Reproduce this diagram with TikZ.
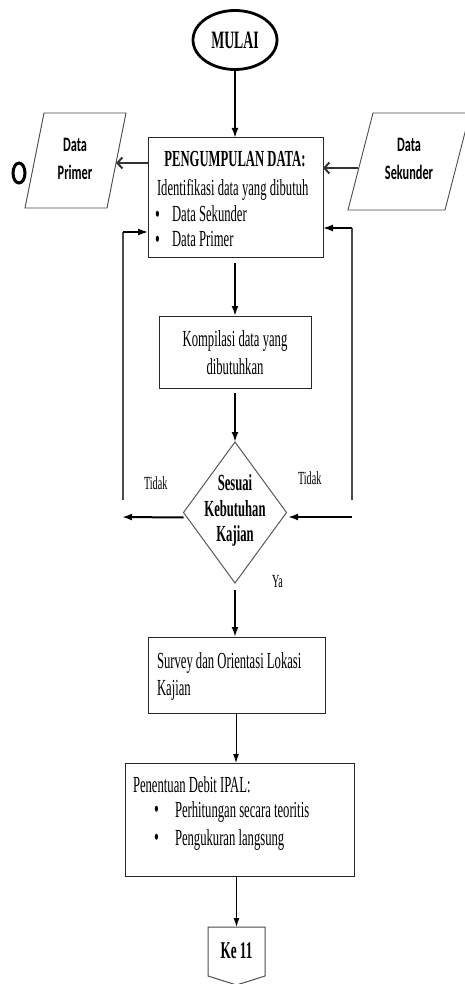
\documentclass[tikz,border=0pt]{standalone}
\usepackage{fontspec}
\setmainfont{Liberation Serif}[FakeStretch=0.55]
\newfontfamily\calibfont{Carlito}[FakeStretch=0.6]
\usetikzlibrary{arrows.meta,shapes.geometric,fit,calc}

\begin{document}
\begin{tikzpicture}[x=1pt,y=-1pt,
  every node/.style={inner sep=0pt, outer sep=0pt},
  txt/.style={font=\fontsize{23}{26}\selectfont},
  btxt/.style={font=\fontsize{23}{26}\selectfont\bfseries},
  bul/.style={font=\fontsize{25}{25}\selectfont},
  lbl/.style={font=\fontsize{18.5}{20}\selectfont},
  dtxt/.style={font=\calibfont\fontsize{20.5}{28}\selectfont\bfseries, align=center},
  box/.style={draw=black!85, line width=1pt},
  pgram/.style={draw=black!70, line width=0.9pt},
  thickarr/.style={line width=2pt, -{Latex[length=10pt,width=7pt]}},
  thinarr/.style={line width=1pt, -{Latex[length=9pt,width=6pt]}},
  openarr/.style={line width=2pt, draw=black!80, -{Straight Barb[length=5pt,width=11pt]}},
  loopline/.style={line width=1.2pt, draw=black!70},
]
\fill[white] (0,0) rectangle (464,984);
\useasboundingbox (0,0) rectangle (464,984);

% start terminal
\node[ellipse, draw, line width=2.8pt, minimum width=84pt, minimum height=59pt,
      font=\fontsize{25}{28}\selectfont\bfseries] (mulai) at (235,40) {MULAI};

% data collection box
\node[box, fit={(148,138) (323,257)}] (peng) {};
\node[btxt, anchor=base] (pengT) at (235,167) {PENGUMPULAN DATA:};
\node[txt, anchor=base west] (pengA) at (157,196) {Identifikasi data yang dibutuh};
\node[bul, anchor=base west] (pengB1) at (155,222.5) {\textbullet};
\node[txt, anchor=base west] (pengB) at (172,222) {Data Sekunder};
\node[bul, anchor=base west] (pengC1) at (155,247.5) {\textbullet};
\node[txt, anchor=base west] (pengC) at (172,247) {Data Primer};

% data parallelograms
\draw[pgram] (44,113) -- (126,113) -- (107,208) -- (25,208) -- cycle;
\node[dtxt] (primer) at (75,159) {Data\\Primer};
\coordinate (primerR) at (116,163);
\draw[line width=3pt] (19,173) ellipse [x radius=6pt, y radius=10pt];

\draw[pgram] (373,113) -- (470,113) -- (445,210) -- (348,210) -- cycle;
\node[dtxt] (sekunder) at (409,159) {Data\\Sekunder};
\coordinate (sekunderL) at (358,168);

% compilation box
\node[box, fit={(159,316) (311,388)}] (komp) {};
\node[txt, anchor=base] (kompA) at (235,346) {Kompilasi data yang};
\node[txt, anchor=base] (kompB) at (235,374) {dibutuhkan};

% decision
\node[diamond, draw=black!65, line width=1pt, minimum width=103pt, minimum height=141pt] (dia) at (235,512.5) {};
\node[btxt, anchor=base] (diaA) at (235,490) {Sesuai};
\node[btxt, anchor=base] (diaB) at (235,516) {Kebutuhan};
\node[btxt, anchor=base] (diaC) at (235,541) {Kajian};
\node[lbl, anchor=base west] (tidakL) at (144,489) {Tidak};
\node[lbl, anchor=base west] (tidakR) at (298,484) {Tidak};
\node[lbl, anchor=base west] (ya) at (272,587) {Ya};

% survey box
\node[box, fit={(148,637) (325,713)}] (survey) {};
\node[txt, anchor=base west] (surveyA) at (157,668) {Survey dan Orientasi Lokasi};
\node[txt, anchor=base west] (surveyB) at (157,695) {Kajian};

% discharge box
\node[box, fit={(125,763) (354,876)}] (debit) {};
\node[txt, anchor=base west] (debitA) at (133,792) {Penentuan Debit IPAL:};
\node[bul, anchor=base west] (debitB1) at (154,817.5) {\textbullet};
\node[txt, anchor=base west] (debitB) at (175,817) {Perhitungan secara teoritis};
\node[bul, anchor=base west] (debitC1) at (154,845.5) {\textbullet};
\node[txt, anchor=base west] (debitC) at (175,845) {Pengukuran langsung};

% off-page connector
\draw[draw=black!70, line width=1pt] (208,927) -- (265,927) -- (265,976) -- (236.5,985) -- (208,976) -- cycle;
\coordinate (ke) at (236.5,927);
\node[font=\fontsize{24}{26}\selectfont\bfseries, anchor=base] (keT) at (236.5,958) {Ke 11};

% connectors
\draw[thickarr] (mulai.south) -- (mulai.south |- peng.north);
\draw[openarr] (peng.west |- primerR) -- (primerR);
\draw[openarr] (sekunderL) -- (peng.east |- sekunderL);
\draw[thickarr, shorten <=6pt] (235,257) -- (235,316);
\draw[thickarr, shorten <=5pt] (komp.south) -- (dia.north);
\draw[thickarr, shorten <=7pt] (dia.south) -- (dia.south |- survey.north);
\draw[thinarr] (236,713) -- (236,763);
\draw[thinarr] (debit.south -| ke) -- (ke);

% loops back for missing data
\coordinate (loopL) at (123,500);
\coordinate (loopR) at (352,500);
\draw[loopline] (loopL) -- (123,232);
\draw[thickarr, line width=1.5pt] (123,232) -- (peng.west |- 0,232);
\draw[loopline] (loopR) -- (352,228);
\draw[thickarr, line width=1.5pt] (352,228) -- (peng.east |- 0,228);
\draw[thickarr] ([yshift=-5pt]dia.west) -- (122,517);
\draw[thickarr] (352,517) -- (288,517);
\end{tikzpicture}
\end{document}
